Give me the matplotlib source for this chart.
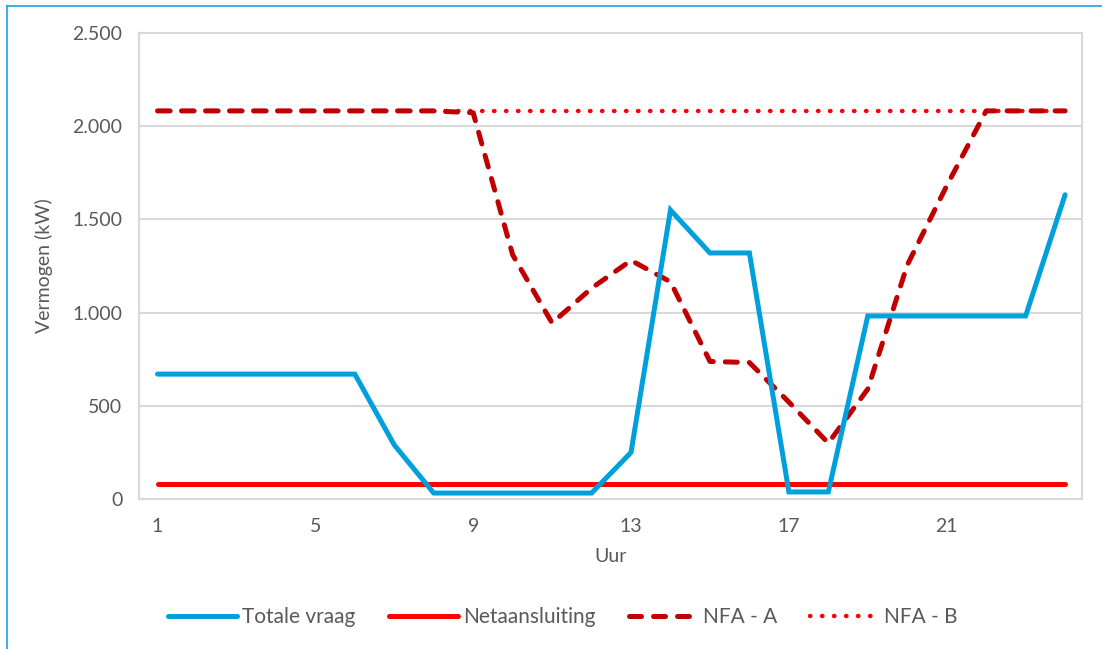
import matplotlib.pyplot as plt
from matplotlib.lines import Line2D
from matplotlib.ticker import FuncFormatter

plt.rcParams['font.family'] = ['Lato', 'DejaVu Sans']

# hours of the day
uur = list(range(1, 25))

# power values (kW)
totale_vraag = [670, 670, 670, 670, 670, 670, 290, 32, 32, 32, 32, 32,
                250, 1550, 1320, 1320, 38, 38, 982, 982, 982, 982, 982, 1632]
netaansluiting = [80] * 24
nfa_a = [2082, 2082, 2082, 2082, 2082, 2082, 2082, 2082, 2072, 1310, 944, 1131,
         1280, 1165, 738, 732, 520, 300, 590, 1255, 1680, 2082, 2082, 2082]
nfa_b = [2082] * 24

xticks = [1, 5, 9, 13, 17, 21]
yticks = [0, 500, 1000, 1500, 2000, 2500]

grey = '#D9D9D9'
txt = '#595959'

fig = plt.figure(figsize=(11.02, 6.49), dpi=100)
ax = fig.add_axes([0.1261, 0.2311, 0.9819 - 0.1261, 0.9492 - 0.2311])

ax.plot(uur, totale_vraag, color='#00A0DC', lw=3.6, label='Totale vraag',
        solid_joinstyle='miter', solid_capstyle='round', zorder=4)
ax.plot(uur, netaansluiting, color='#FF0000', lw=3.6, label='Netaansluiting',
        solid_capstyle='round', zorder=3)
ax.plot(uur, nfa_a, color='#C00000', lw=3.6, label='NFA - A',
        dashes=(2.4, 2.4), dash_capstyle='round', zorder=3)
ax.plot(uur, nfa_b, color='#FF0000', lw=3.2, label='NFA - B',
        dashes=(0.1, 2.6), dash_capstyle='round', zorder=2)

ax.set_xlim(0.53, 24.43)
ax.set_ylim(0, 2500)
ax.set_xticks(xticks)
ax.set_yticks(yticks)
ax.yaxis.set_major_formatter(FuncFormatter(lambda v, p: f'{int(v):,}'.replace(',', '.')))
ax.tick_params(length=0, labelsize=14, colors=txt, pad=12)
ax.tick_params(axis='x', pad=14)
ax.grid(axis='y', color=grey, lw=1.5)
ax.set_axisbelow(True)
for s in ax.spines.values():
    s.set_color(grey)
    s.set_linewidth(1.5)

ax.set_xlabel('Uur', fontsize=14, color=txt, labelpad=9)
ax.set_ylabel('Vermogen (kW)', fontsize=14, color=txt, labelpad=14)

ax.legend(loc='center', bbox_to_anchor=(0.511, 0.049), bbox_transform=fig.transFigure,
          ncol=4, frameon=False, fontsize=15, labelcolor=txt, handlelength=3.3,
          handletextpad=0.25, columnspacing=1.6)

# blue screenshot border (left and top)
fig.add_artist(Line2D([7 / 1102, 7 / 1102], [0, 1 - 6 / 649], color='#1AA3E0', lw=1.2))
fig.add_artist(Line2D([7 / 1102, 1], [1 - 6 / 649, 1 - 6 / 649], color='#1AA3E0', lw=1.2))

fig.savefig('out.png', dpi=100)
